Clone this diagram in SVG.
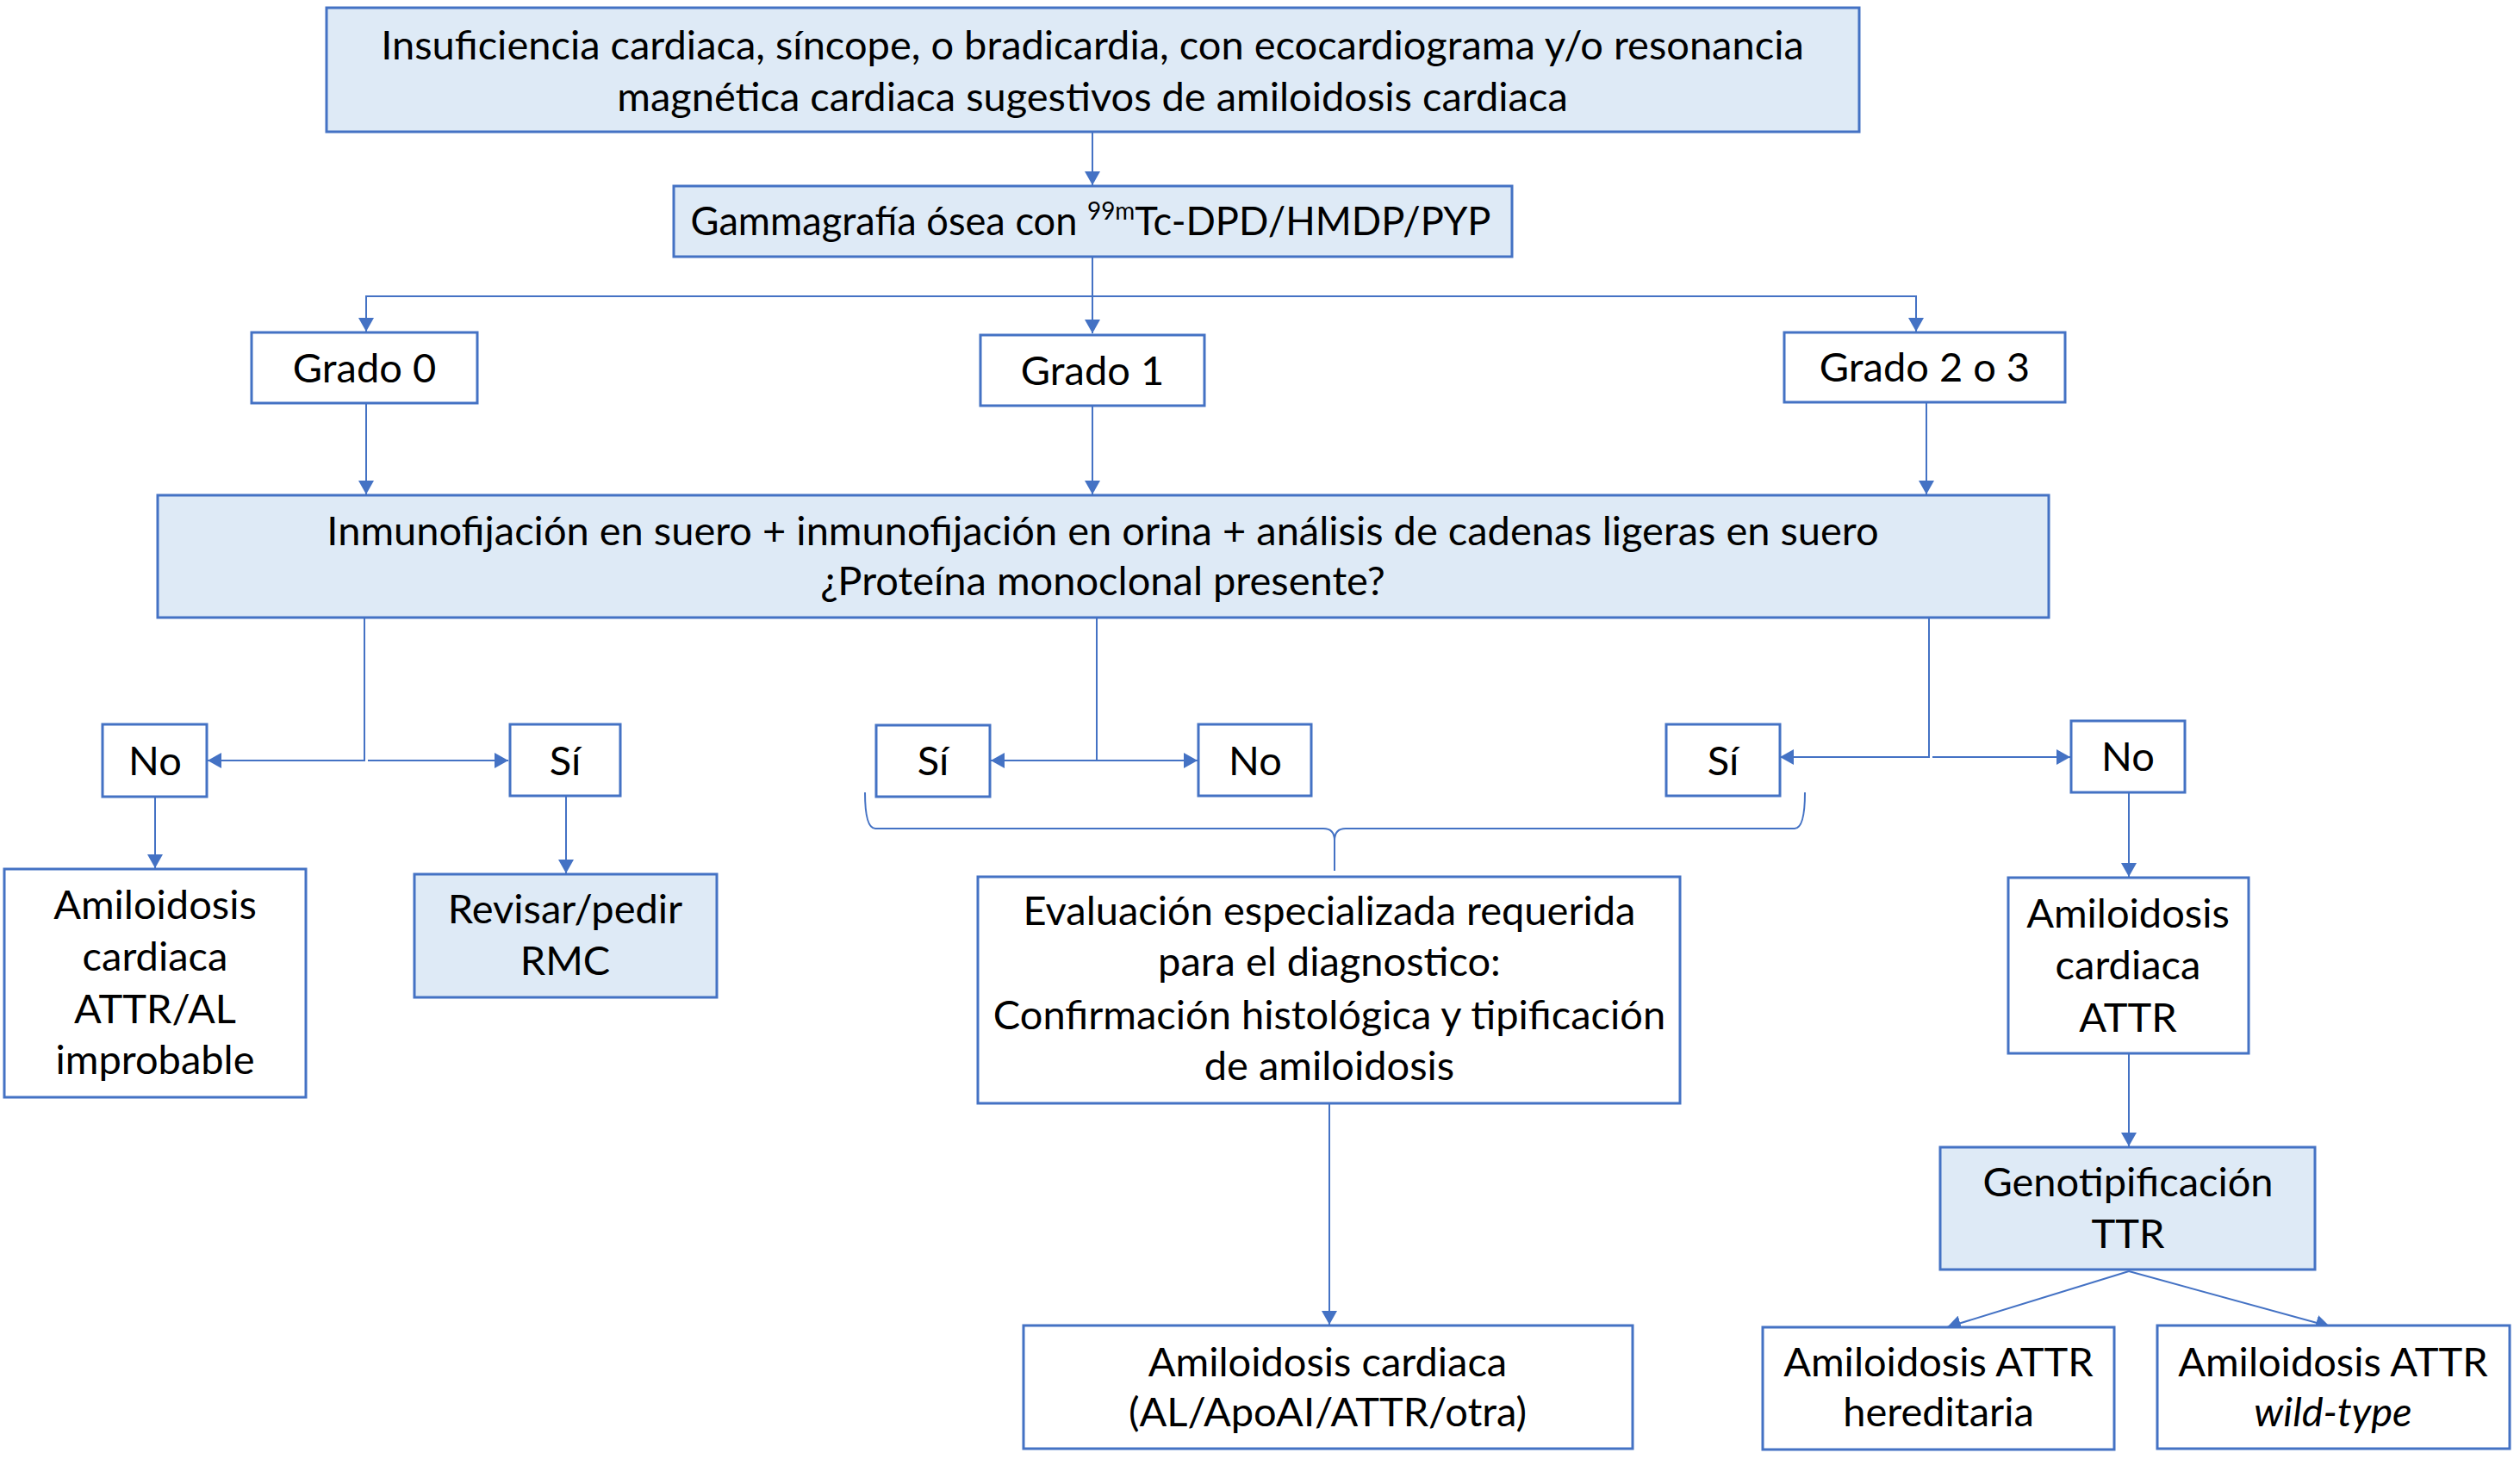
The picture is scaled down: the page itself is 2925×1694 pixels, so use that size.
<svg xmlns="http://www.w3.org/2000/svg" width="2925" height="1694" viewBox="0 0 2925 1694">
<style>
.box{stroke:#4472C4;stroke-width:3;fill:#FFFFFF}
.fill{fill:#DEEAF6}
.t{font-family:Lato,"Open Sans","Liberation Sans",sans-serif;font-size:47px;fill:#000;text-anchor:middle}
.c{stroke:#4472C4;stroke-width:2;fill:none}
.a{marker-end:url(#ah)}
</style>
<defs>
<marker id="ah" markerUnits="userSpaceOnUse" markerWidth="16" markerHeight="18" viewBox="0 0 16 18" refX="16" refY="9" orient="auto">
<path d="M0,0 L16,9 L0,18 z" fill="#4472C4"/>
</marker>
</defs>
<rect width="2925" height="1694" fill="#FFFFFF"/>
<g id="connectors">
<line class="c a" x1="1268" y1="153" x2="1268" y2="215"/>
<line class="c a" x1="1268" y1="298" x2="1268" y2="387"/>
<polyline class="c" points="425,385 425,344 2224,344 2224,385"/>
<line class="c a" x1="425" y1="344" x2="425" y2="385"/>
<line class="c a" x1="2224" y1="344" x2="2224" y2="385"/>
<line class="c a" x1="425" y1="468" x2="425" y2="574"/>
<line class="c a" x1="1268" y1="471" x2="1268" y2="574"/>
<line class="c a" x1="2236" y1="467" x2="2236" y2="574"/>
<polyline class="c a" points="423,717 423,883 241,883"/>
<line class="c a" x1="427" y1="883" x2="590" y2="883"/>
<line class="c a" x1="180" y1="925" x2="180" y2="1008"/>
<line class="c a" x1="657" y1="924" x2="657" y2="1014"/>
<polyline class="c a" points="1273,717 1273,883 1150,883"/>
<line class="c a" x1="1273" y1="883" x2="1390" y2="883"/>
<polyline class="c a" points="2239,717 2239,879 2066,879"/>
<line class="c a" x1="2243" y1="879" x2="2403" y2="879"/>
<path class="c" d="M1004,920 Q1004,962 1016,962 L1536,962 Q1549,962 1549,976 Q1549,962 1562,962 L2083,962 Q2095,962 2095,920 M1549,976 L1549,1011"/>
<line class="c a" x1="1543" y1="1281" x2="1543" y2="1538"/>
<line class="c a" x1="2471" y1="920" x2="2471" y2="1018"/>
<line class="c a" x1="2471" y1="1223" x2="2471" y2="1331"/>
<line class="c a" x1="2471" y1="1476" x2="2260" y2="1541"/>
<line class="c a" x1="2471" y1="1476" x2="2704" y2="1540"/>
</g>
<g id="n-top"><rect class="box fill" x="379" y="9" width="1779" height="144"/>
<text class="t" x="1268" y="69">Insuficiencia cardiaca, síncope, o bradicardia, con ecocardiograma y/o resonancia</text>
<text class="t" x="1268" y="129">magnética cardiaca sugestivos de amiloidosis cardiaca</text></g>
<g id="n-gamma"><rect class="box fill" x="782" y="216" width="973" height="82"/>
<text class="t" x="1266" y="273" textLength="929" lengthAdjust="spacingAndGlyphs">Gammagrafía ósea con <tspan font-size="29" dy="-18">99m</tspan><tspan dy="18">Tc-DPD/HMDP/PYP</tspan></text></g>
<g id="n-g0"><rect class="box" x="292" y="386" width="262" height="82"/><text class="t" x="423" y="444">Grado 0</text></g>
<g id="n-g1"><rect class="box" x="1138" y="389" width="260" height="82"/><text class="t" x="1268" y="447">Grado 1</text></g>
<g id="n-g23"><rect class="box" x="2071" y="386" width="326" height="81"/><text class="t" x="2234" y="443">Grado 2 o 3</text></g>
<g id="n-inmuno"><rect class="box fill" x="183" y="575" width="2195" height="142"/>
<text class="t" x="1280" y="633">Inmunofijación en suero + inmunofijación en orina + análisis de cadenas ligeras en suero</text>
<text class="t" x="1280" y="691">¿Proteína monoclonal presente?</text></g>
<g id="n-no1"><rect class="box" x="119" y="841" width="121" height="84"/><text class="t" x="180" y="900">No</text></g>
<g id="n-si1"><rect class="box" x="592" y="841" width="128" height="83"/><text class="t" x="656" y="900">Sí</text></g>
<g id="n-si2"><rect class="box" x="1017" y="842" width="132" height="83"/><text class="t" x="1083" y="900">Sí</text></g>
<g id="n-no2"><rect class="box" x="1391" y="841" width="131" height="83"/><text class="t" x="1457" y="900">No</text></g>
<g id="n-si3"><rect class="box" x="1934" y="841" width="132" height="83"/><text class="t" x="2000" y="900">Sí</text></g>
<g id="n-no3"><rect class="box" x="2404" y="837" width="132" height="83"/><text class="t" x="2470" y="895">No</text></g>
<g id="n-improbable"><rect class="box" x="5" y="1009" width="350" height="265"/>
<text class="t" x="180" y="1067">Amiloidosis</text><text class="t" x="180" y="1127">cardiaca</text><text class="t" x="180" y="1188">ATTR/AL</text><text class="t" x="180" y="1247">improbable</text></g>
<g id="n-revisar"><rect class="box fill" x="481" y="1015" width="351" height="143"/>
<text class="t" x="656" y="1072">Revisar/pedir</text><text class="t" x="656" y="1132">RMC</text></g>
<g id="n-eval"><rect class="box" x="1135" y="1018" width="815" height="263"/>
<text class="t" x="1543" y="1074">Evaluación especializada requerida</text><text class="t" x="1543" y="1133">para el diagnostico:</text><text class="t" x="1543" y="1195">Confirmación histológica y tipificación</text><text class="t" x="1543" y="1254">de amiloidosis</text></g>
<g id="n-attr"><rect class="box" x="2331" y="1019" width="279" height="204"/>
<text class="t" x="2470" y="1077">Amiloidosis</text><text class="t" x="2470" y="1137">cardiaca</text><text class="t" x="2470" y="1198">ATTR</text></g>
<g id="n-al"><rect class="box" x="1188" y="1539" width="707" height="143"/>
<text class="t" x="1541" y="1598">Amiloidosis cardiaca</text><text class="t" x="1541" y="1656">(AL/ApoAI/ATTR/otra)</text></g>
<g id="n-geno"><rect class="box fill" x="2252" y="1332" width="435" height="142"/>
<text class="t" x="2470" y="1389">Genotipificación</text><text class="t" x="2470" y="1449">TTR</text></g>
<g id="n-hered"><rect class="box" x="2046" y="1541" width="408" height="142"/>
<text class="t" x="2250" y="1598">Amiloidosis ATTR</text><text class="t" x="2250" y="1656">hereditaria</text></g>
<g id="n-wild"><rect class="box" x="2504" y="1539" width="409" height="143"/>
<text class="t" x="2708" y="1598">Amiloidosis ATTR</text><text class="t" x="2708" y="1656" font-style="italic">wild-type</text></g>
</svg>
